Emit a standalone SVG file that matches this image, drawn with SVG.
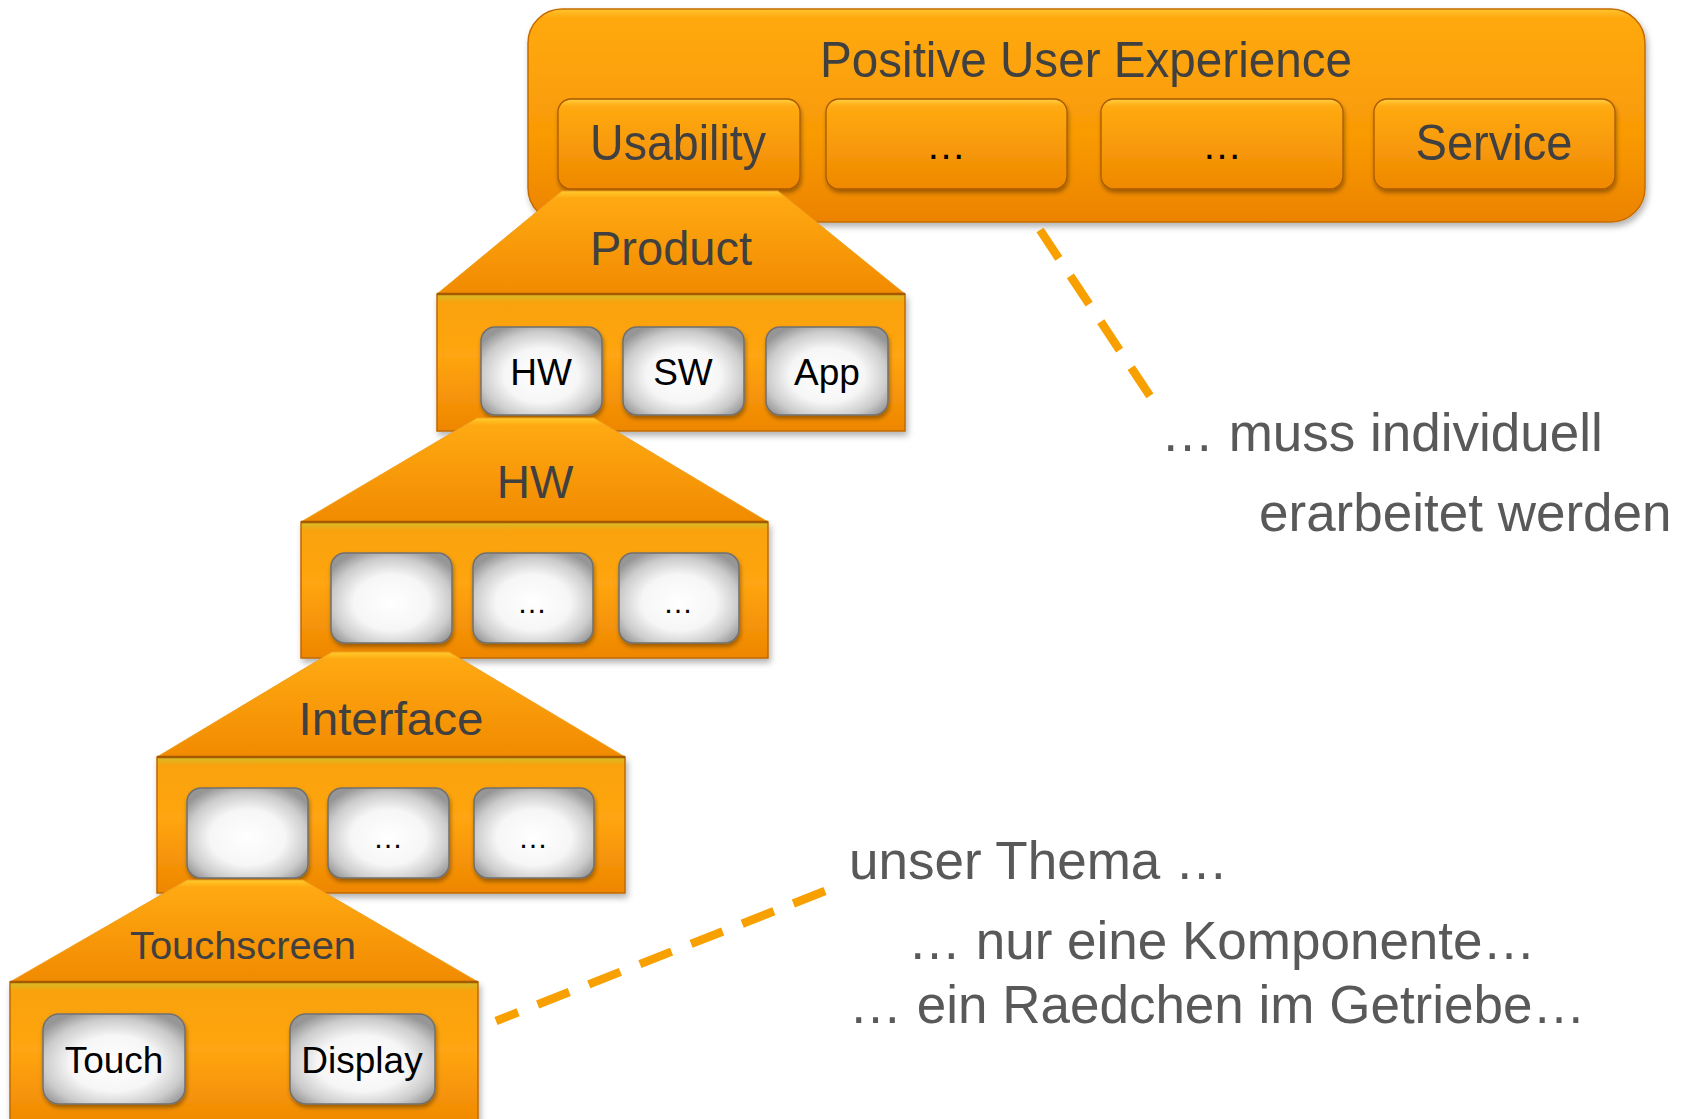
<svg xmlns="http://www.w3.org/2000/svg" width="1685" height="1119" viewBox="0 0 1685 1119">
  <defs>
    <linearGradient id="gBig" x1="0" y1="0" x2="0" y2="1">
      <stop offset="0" stop-color="#FFC530"/>
      <stop offset="0.04" stop-color="#FFA90E"/>
      <stop offset="0.6" stop-color="#F99A05"/>
      <stop offset="1" stop-color="#EC8300"/>
    </linearGradient>
    <linearGradient id="gTab" x1="0" y1="0" x2="0" y2="1">
      <stop offset="0" stop-color="#FFD040"/>
      <stop offset="0.08" stop-color="#FFAA12"/>
      <stop offset="1" stop-color="#EF8800"/>
    </linearGradient>
    <linearGradient id="gTrap" x1="0" y1="0" x2="0" y2="1">
      <stop offset="0" stop-color="#FFCB2A"/>
      <stop offset="0.07" stop-color="#FFA912"/>
      <stop offset="1" stop-color="#F18A00"/>
    </linearGradient>
    <linearGradient id="gRect" x1="0" y1="0" x2="0" y2="1">
      <stop offset="0" stop-color="#D2BE2A"/>
      <stop offset="0.06" stop-color="#F9A20C"/>
      <stop offset="0.45" stop-color="#FFA512"/>
      <stop offset="1" stop-color="#EE8600"/>
    </linearGradient>
    <radialGradient id="gWhite" cx="0.5" cy="0.55" r="0.62">
      <stop offset="0" stop-color="#FFFFFF"/>
      <stop offset="0.5" stop-color="#F6F6F6"/>
      <stop offset="0.8" stop-color="#CBCBCB"/>
      <stop offset="1" stop-color="#969696"/>
    </radialGradient>
    <filter id="shadow" x="-10%" y="-10%" width="125%" height="130%">
      <feDropShadow dx="2" dy="4" stdDeviation="3" flood-color="#000" flood-opacity="0.3"/>
    </filter>
    <filter id="shSmall" x="-10%" y="-10%" width="125%" height="130%">
      <feDropShadow dx="1" dy="3" stdDeviation="2" flood-color="#000" flood-opacity="0.35"/>
    </filter>
  </defs>
  <style>
    .big { fill: url(#gBig); stroke: #C46C00; stroke-width: 1.5; }
    .tab { fill: url(#gTab); stroke: #A85A00; stroke-width: 1.3; }
    .trap { fill: url(#gTrap); stroke: #F0A020; stroke-width: 1; }
    .base { stroke: #A65A00; stroke-width: 2.5; }
    .body { fill: url(#gRect); stroke: #BF6A00; stroke-width: 1.5; }
    .wbox { fill: url(#gWhite); stroke: #707070; stroke-width: 1.5; }
    .lbl { font-family: "Liberation Sans", Arial, sans-serif; fill: #404040; text-anchor: middle; }
    .wl { font-family: "Liberation Sans", Arial, sans-serif; fill: #000; text-anchor: middle; }
    .note { font-family: "Liberation Sans", Arial, sans-serif; fill: #595959; font-size: 53px; }
    .dash { stroke: #F7A000; stroke-width: 8.5; fill: none; stroke-dasharray: 34 21; }
  </style>
  <rect width="1685" height="1119" fill="#FFFFFF"/>

  <g id="ux">
    <rect class="big" x="528" y="9" width="1117" height="213" rx="34" filter="url(#shadow)"/>
    <text class="lbl" x="1086" y="77" font-size="50" textLength="532" lengthAdjust="spacingAndGlyphs">Positive User Experience</text>
    <g id="usability">
      <rect class="tab" x="558" y="99" width="242" height="90" rx="13" filter="url(#shSmall)"/>
      <text class="lbl" x="678" y="160" font-size="50" textLength="176" lengthAdjust="spacingAndGlyphs">Usability</text>
    </g>
    <g id="ux-dots1">
      <rect class="tab" x="826" y="99" width="241" height="90" rx="13" filter="url(#shSmall)"/>
      <text class="wl" x="946" y="159" font-size="40">…</text>
    </g>
    <g id="ux-dots2">
      <rect class="tab" x="1101" y="99" width="242" height="90" rx="13" filter="url(#shSmall)"/>
      <text class="wl" x="1222" y="159" font-size="40">…</text>
    </g>
    <g id="service">
      <rect class="tab" x="1374" y="99" width="241" height="90" rx="13" filter="url(#shSmall)"/>
      <text class="lbl" x="1494" y="160" font-size="50" textLength="157" lengthAdjust="spacingAndGlyphs">Service</text>
    </g>
  </g>

  <g id="product">
    <rect class="body" x="437" y="294" width="468" height="137" filter="url(#shadow)"/>
    <polygon class="trap" points="562,191 778,191 905,294 437,294"/>
    <line class="base" x1="437" y1="294" x2="905" y2="294"/>
    <text class="lbl" x="671" y="265" font-size="48" textLength="162" lengthAdjust="spacingAndGlyphs">Product</text>
    <g id="product-hw">
      <rect class="wbox" x="481" y="327" width="121" height="88" rx="14" filter="url(#shSmall)"/>
      <text class="wl" x="541" y="385" font-size="37">HW</text>
    </g>
    <g id="product-sw">
      <rect class="wbox" x="623" y="327" width="121" height="88" rx="14" filter="url(#shSmall)"/>
      <text class="wl" x="683" y="385" font-size="37">SW</text>
    </g>
    <g id="product-app">
      <rect class="wbox" x="766" y="327" width="122" height="88" rx="14" filter="url(#shSmall)"/>
      <text class="wl" x="827" y="385" font-size="37">App</text>
    </g>
  </g>

  <g id="hw">
    <rect class="body" x="301" y="522" width="467" height="136" filter="url(#shadow)"/>
    <polygon class="trap" points="477,418 594,418 768,522 301,522"/>
    <line class="base" x1="301" y1="522" x2="768" y2="522"/>
    <text class="lbl" x="535" y="498" font-size="46">HW</text>
    <g id="hw-1">
      <rect class="wbox" x="331" y="553" width="121" height="90" rx="14" filter="url(#shSmall)"/>
    </g>
    <g id="hw-2">
      <rect class="wbox" x="473" y="553" width="120" height="90" rx="14" filter="url(#shSmall)"/>
      <text class="wl" x="532" y="613" font-size="30">…</text>
    </g>
    <g id="hw-3">
      <rect class="wbox" x="619" y="553" width="120" height="90" rx="14" filter="url(#shSmall)"/>
      <text class="wl" x="678" y="613" font-size="30">…</text>
    </g>
  </g>

  <g id="interface">
    <rect class="body" x="157" y="757" width="468" height="136" filter="url(#shadow)"/>
    <polygon class="trap" points="332,652 449,652 625,757 157,757"/>
    <line class="base" x1="157" y1="757" x2="625" y2="757"/>
    <text class="lbl" x="391" y="735" font-size="47" textLength="185" lengthAdjust="spacingAndGlyphs">Interface</text>
    <g id="if-1">
      <rect class="wbox" x="187" y="788" width="121" height="90" rx="14" filter="url(#shSmall)"/>
    </g>
    <g id="if-2">
      <rect class="wbox" x="328" y="788" width="121" height="90" rx="14" filter="url(#shSmall)"/>
      <text class="wl" x="388" y="848" font-size="30">…</text>
    </g>
    <g id="if-3">
      <rect class="wbox" x="474" y="788" width="120" height="90" rx="14" filter="url(#shSmall)"/>
      <text class="wl" x="533" y="848" font-size="30">…</text>
    </g>
  </g>

  <g id="touchscreen">
    <rect class="body" x="10" y="982" width="468" height="150" filter="url(#shadow)"/>
    <polygon class="trap" points="187,880 303,880 478,982 10,982"/>
    <line class="base" x1="10" y1="982" x2="478" y2="982"/>
    <text class="lbl" x="243" y="959" font-size="39" textLength="226" lengthAdjust="spacingAndGlyphs">Touchscreen</text>
    <g id="touch">
      <rect class="wbox" x="43" y="1014" width="142" height="90" rx="16" filter="url(#shSmall)"/>
      <text class="wl" x="114" y="1073" font-size="37">Touch</text>
    </g>
    <g id="display">
      <rect class="wbox" x="290" y="1014" width="145" height="90" rx="16" filter="url(#shSmall)"/>
      <text class="wl" x="362" y="1073" font-size="37">Display</text>
    </g>
  </g>

  <g id="connectors">
    <line class="dash" x1="1040" y1="230" x2="1152" y2="399"/>
    <line class="dash" x1="825" y1="891" x2="496" y2="1021"/>
  </g>

  <g id="notes">
    <text class="note" x="1161" y="451">… muss individuell</text>
    <text class="note" x="1259" y="531">erarbeitet werden</text>
    <text class="note" x="849" y="879">unser Thema …</text>
    <text class="note" x="908" y="959">… nur eine Komponente…</text>
    <text class="note" x="849" y="1023">… ein Raedchen im Getriebe…</text>
  </g>
</svg>
